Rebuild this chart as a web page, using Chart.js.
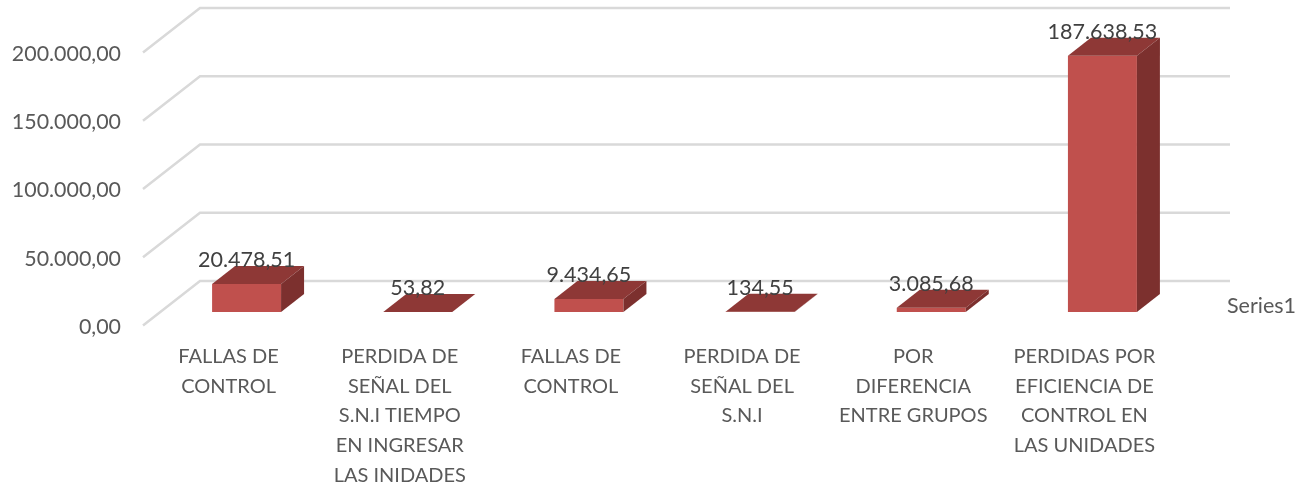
<!DOCTYPE html>
<html>
<head>
<meta charset="utf-8">
<style>body { margin: 0; background: #fff; }</style>
<script src="https://cdn.jsdelivr.net/npm/chart.js@4"></script>
</head>
<body>
<canvas id="myChart" width="1300" height="484"></canvas>
<script>
// Labels along the x-axis
var categories = [
  ["FALLAS DE", "CONTROL"],
  ["PERDIDA DE", "SEÑAL DEL", "S.N.I TIEMPO", "EN INGRESAR", "LAS INIDADES"],
  ["FALLAS DE", "CONTROL"],
  ["PERDIDA DE", "SEÑAL DEL", "S.N.I"],
  ["POR", "DIFERENCIA", "ENTRE GRUPOS"],
  ["PERDIDAS POR", "EFICIENCIA DE", "CONTROL EN", "LAS UNIDADES"]
];
var seriesName = "Series1";
var values = [20478.51, 53.82, 9434.65, 134.55, 3085.68, 187638.53];
var yTicks = [0, 50000, 100000, 150000, 200000];

// depth of the fake 3D box
var wallDx = 57, wallDy = 44.5, frontDrop = 13.5;
var barDx = 23, barDy = 18;
var FONT = "Lato, Carlito, sans-serif";

function fmt(v) {
  return v.toLocaleString("de-DE", { minimumFractionDigits: 2, maximumFractionDigits: 2 });
}

var fake3d = {
  id: "fake3d",
  beforeDatasetsDraw: function (chart) {
    var c = chart.ctx, y = chart.scales.y;
    var x0 = 143, xWall = x0 + wallDx, xEnd = 1230;
    c.save();
    c.strokeStyle = "#d9d9d9";
    c.lineWidth = 2.5;
    yTicks.forEach(function (t) {
      var py = y.getPixelForValue(t);
      c.beginPath();
      c.moveTo(x0, py + frontDrop);
      c.lineTo(xWall, py + frontDrop - wallDy);
      c.lineTo(xEnd, py + frontDrop - wallDy);
      c.stroke();
    });
    c.restore();
  },
  afterDatasetsDraw: function (chart) {
    var c = chart.ctx;
    var bars = chart.getDatasetMeta(0).data;
    c.save();
    bars.forEach(function (b) {
      var l = b.x - b.width / 2, r = b.x + b.width / 2, t = b.y, bot = b.base;
      // top face
      c.fillStyle = "#8e3836";
      c.beginPath();
      c.moveTo(l, t);
      c.lineTo(l + barDx, t - barDy);
      c.lineTo(r + barDx, t - barDy);
      c.lineTo(r, t);
      c.closePath();
      c.fill();
      // side face
      c.fillStyle = "#7c302e";
      c.beginPath();
      c.moveTo(r, t);
      c.lineTo(r + barDx, t - barDy);
      c.lineTo(r + barDx, bot - barDy);
      c.lineTo(r, bot);
      c.closePath();
      c.fill();
    });
    // value labels
    c.fillStyle = "#404040";
    c.font = "21.5px " + FONT;
    c.textAlign = "center";
    c.textBaseline = "middle";
    bars.forEach(function (b, i) {
      c.fillText(fmt(values[i]), b.x, b.y - 24);
    });
    // series name on the depth axis
    c.fillStyle = "#595959";
    c.font = "21.5px " + FONT;
    c.textAlign = "left";
    c.fillText(chart.data.datasets[0].label, 1227, 306);
    c.restore();
  }
};

var ctx = document.getElementById("myChart");
var myChart = new Chart(ctx, {
  type: "bar",
  data: {
    labels: categories,
    datasets: [{
      label: seriesName,
      data: values,
      backgroundColor: "#c0504d",
      borderWidth: 0,
      categoryPercentage: 0.403,
      barPercentage: 1
    }]
  },
  plugins: [fake3d],
  options: {
    responsive: false,
    animation: false,
    layout: { padding: { top: 39, right: 112, left: 0, bottom: 0 } },
    plugins: { legend: { display: false }, tooltip: { enabled: false } },
    scales: {
      x: {
        grid: { display: false, drawTicks: false },
        border: { display: false },
        afterFit: function (s) { s.height = 172; },
        ticks: {
          color: "#595959",
          font: { family: FONT, size: 20, lineHeight: 1.48 },
          padding: 30,
          labelOffset: -18,
          maxRotation: 0,
          autoSkip: false
        }
      },
      y: {
        min: 0,
        max: 200000,
        // tick padding also pads the top of the area, so the gap comes from tickLength
        grid: { display: false, drawTicks: true, tickLength: 40 },
        border: { display: false },
        afterFit: function (s) { s.width = 161; },
        afterBuildTicks: function (s) {
          s.ticks = yTicks.map(function (v) { return { value: v }; });
        },
        ticks: {
          color: "#595959",
          font: { family: FONT, size: 21.4 },
          padding: 0,
          labelOffset: 15,
          callback: function (v) { return fmt(v); }
        }
      }
    }
  }
});
</script>
</body>
</html>
